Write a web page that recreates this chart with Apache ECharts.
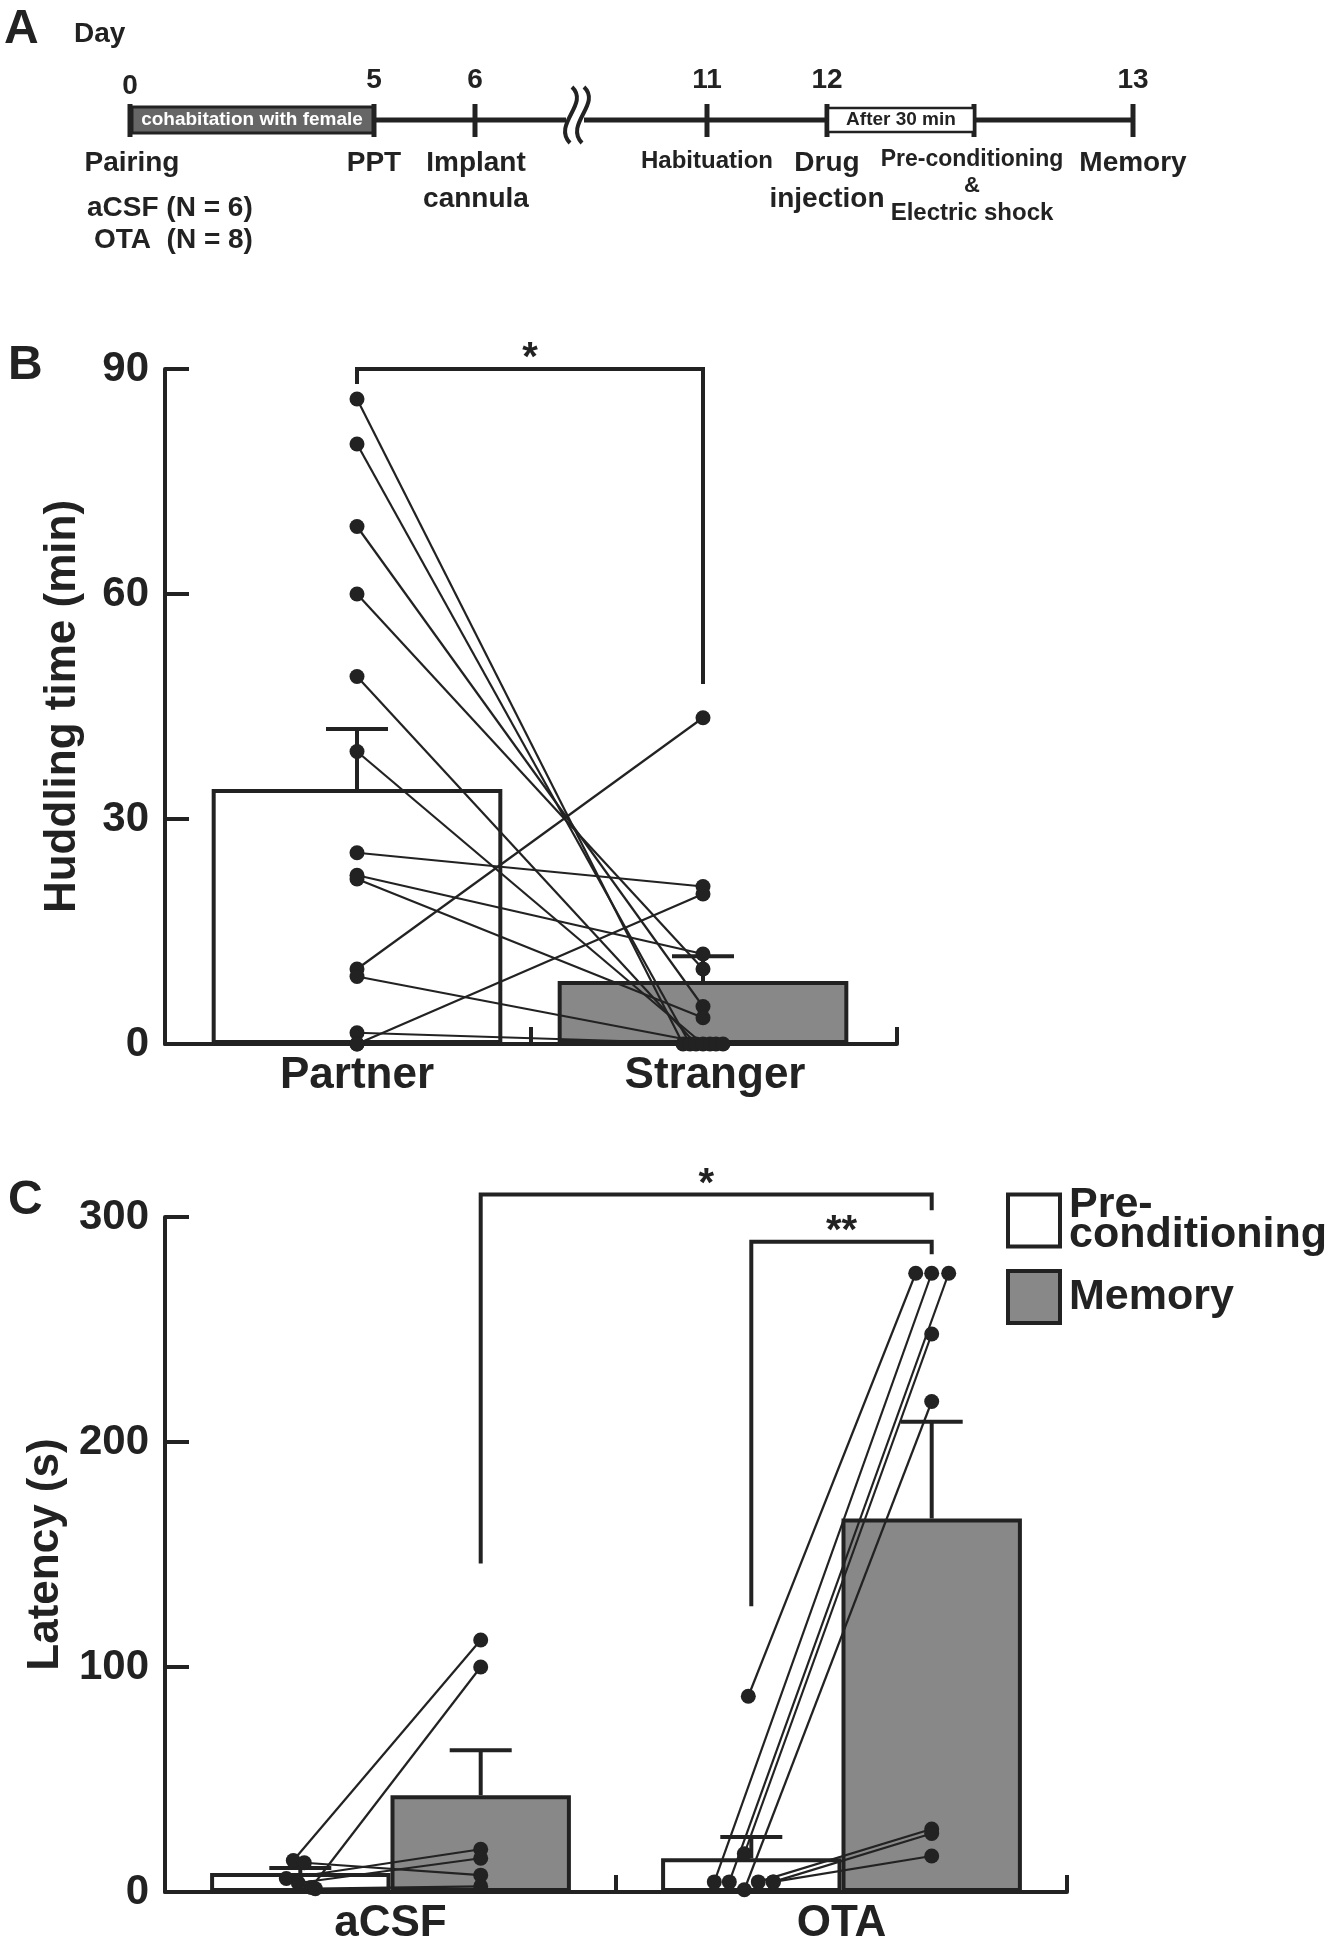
<!DOCTYPE html>
<html>
<head>
<meta charset="utf-8">
<script src="https://cdn.jsdelivr.net/npm/echarts@6/dist/echarts.min.js"></script>
<style>
html, body { margin: 0; padding: 0; background: #fff; }
#chart { width: 1336px; height: 1942px; }
</style>
</head>
<body>
<div id="chart"></div>
<script>
var INK = '#222';
var FONT = '"Liberation Sans", Arial, sans-serif';

// ---- B: huddling time (min)
var huddleCats = ['Partner', 'Stranger'];
var huddleMean = [34, 8.4];
var huddleSem = [8, 3.3];
var partnerTime = [86, 80, 69, 60, 49, 39, 25.5, 22.5, 22, 10, 9, 1.5, 0, 0];
var strangerTime = [0, 0, 5, 10, 0, 0, 21, 12, 3.5, 43.5, 0, 0, 0, 20];

// ---- C: latency (s)
var groups = ['aCSF', 'OTA'];
var preMean = [8.4, 15];
var preSem = [2.3, 9.5];
var memMean = [43, 166];
var memSem = [20, 43];
var acsfPre = [14, 2, 13, 6, 4, 1.5];
var acsfMem = [112, 100, 7.5, 19, 15, 2.5];
var otaPre = [87, 4.5, 4.5, 17, 1, 4.5, 4.5, 4.5];
var otaMem = [275, 275, 275, 248, 218, 28, 26, 16];

// significance brackets: [catL, sideL, footL, top, catR, sideR, footR]
var sigB = [[0, 0, 88, 90, 1, 0, 48]];
var sigBText = ['*'];
var sigC = [[0, 1, 146, 310, 1, 1, 303], [1, -1, 127, 289, 1, 1, 283.5]];
var sigCText = ['*', '**'];

// timeline (panel A)
var dayLabels = ['0', '5', '6', '11', '12', '13'];

// horizontal spread of overlapping dots, px
var strangerJit = [-20, -13, 0, 0, -7, 0, 0, 0, 0, 0, 7, 13, 20, 0];
var acsfPreJit = [-7, 11, 4, -14, -2, 15];
var otaPreJit = [-3, -37, -22, -7, -7, 7, 22, 22];
var otaMemJit = [-16, 0, 17, 0, 0, 0, 0, 0];

var chart = echarts.init(document.getElementById('chart'));

function txt(s, x, y, size, opt) {
    opt = opt || {};
    return {
        type: 'text', x: x, y: y, z: 10,
        style: {
            text: s, fill: opt.fill || INK, font: 'bold ' + size + 'px ' + FONT,
            align: opt.align || 'center', verticalAlign: 'middle'
        }
    };
}
function seg(x1, y1, x2, y2, w) {
    return { type: 'line', z: 5, shape: { x1: x1, y1: y1, x2: x2, y2: y2 }, style: { stroke: INK, lineWidth: w || 5 } };
}
function wave(dx) {
    return {
        type: 'bezierCurve', z: 5,
        shape: { x1: 572 + dx, y1: 87, cpx1: 590 + dx, cpy1: 104, cpx2: 552 + dx, cpy2: 124, x2: 570 + dx, y2: 143 },
        style: { stroke: INK, lineWidth: 4, fill: null }
    };
}

// panel A drawing
var TY = 120;
var dayX = [130, 374, 475, 707, 827, 1133];
var tl = [
    txt('A', 4, 30, 48, { align: 'left' }),
    txt('B', 8, 366, 48, { align: 'left' }),
    txt('C', 8, 1201, 48, { align: 'left' }),
    txt('Day', 74, 34, 28, { align: 'left' }),
    seg(130, TY, 566, TY),
    seg(584, TY, 1133, TY),
    wave(0), wave(12),
    { type: 'rect', z: 6, shape: { x: 132, y: 107, width: 241, height: 26 }, style: { fill: '#666', stroke: INK, lineWidth: 3 } },
    txt('cohabitation with female', 252, 120, 19, { fill: '#fff' }),
    { type: 'rect', z: 6, shape: { x: 828, y: 108, width: 146, height: 24 }, style: { fill: '#fff', stroke: INK, lineWidth: 2.5 } },
    txt('After 30 min', 901, 120, 19),
    seg(974, 104, 974, 137),
    txt('Pairing', 132, 163, 28),
    txt('PPT', 374, 163, 28),
    txt('Implant', 476, 163, 28),
    txt('cannula', 476, 199, 28),
    txt('Habituation', 707, 161, 24),
    txt('Drug', 827, 163, 28),
    txt('injection', 827, 199, 28),
    txt('Pre-conditioning', 972, 160, 23),
    txt('&', 972, 186, 22),
    txt('Electric shock', 972, 213, 24),
    txt('Memory', 1133, 163, 28),
    txt('aCSF (N = 6)', 87, 208, 28, { align: 'left' }),
    txt('OTA  (N = 8)', 94, 240, 28, { align: 'left' })
];
dayLabels.forEach(function (d, i) {
    tl.push(seg(dayX[i], 104, dayX[i], 137));
    tl.push(txt(d, dayX[i], i === 0 ? 86 : 80, 28));
});

// ---- custom renderers
function halfBar(api) { return api.size([1, 0])[0] * 0.2; }

function renderErr(params, api) {
    var x = api.coord([api.value(0), 0])[0] + api.value(3) * halfBar(api);
    var yb = api.coord([0, api.value(1)])[1];
    var yt = api.coord([0, api.value(1) + api.value(2)])[1];
    return {
        type: 'group', children: [
            { type: 'line', shape: { x1: x, y1: yb, x2: x, y2: yt }, style: { stroke: INK, lineWidth: 4 } },
            { type: 'line', shape: { x1: x - 31, y1: yt, x2: x + 31, y2: yt }, style: { stroke: INK, lineWidth: 4 } }
        ]
    };
}

// rows: [catA, valA, catB, valB, offA, offB, sideA, sideB]
function pairEnds(api) {
    var h = halfBar(api);
    var a = api.coord([api.value(0), api.value(1)]);
    var b = api.coord([api.value(2), api.value(3)]);
    a[0] += api.value(6) * h + api.value(4);
    b[0] += api.value(7) * h + api.value(5);
    return [a, b];
}
function renderPairLine(params, api) {
    var p = pairEnds(api);
    return { type: 'line', shape: { x1: p[0][0], y1: p[0][1], x2: p[1][0], y2: p[1][1] }, style: { stroke: INK, lineWidth: 2.2 } };
}
function renderPairDots(params, api) {
    var p = pairEnds(api);
    return {
        type: 'group', children: [
            { type: 'circle', shape: { cx: p[0][0], cy: p[0][1], r: 7.5 }, style: { fill: INK } },
            { type: 'circle', shape: { cx: p[1][0], cy: p[1][1], r: 7.5 }, style: { fill: INK } }
        ]
    };
}
function renderBracket(labels) {
    return function (params, api) {
        var h = halfBar(api);
        var xl = api.coord([api.value(0), 0])[0] + api.value(1) * h;
        var xr = api.coord([api.value(4), 0])[0] + api.value(5) * h;
        var yl = api.coord([0, api.value(2)])[1];
        var yt = api.coord([0, api.value(3)])[1];
        var yr = api.coord([0, api.value(6)])[1];
        return {
            type: 'group', children: [
                { type: 'polyline', shape: { points: [[xl, yl], [xl, yt], [xr, yt], [xr, yr]] }, style: { stroke: INK, lineWidth: 4, fill: null } },
                { type: 'text', x: (xl + xr) / 2, y: yt - 30, style: { text: labels[params.dataIndex], fill: INK, font: 'bold 40px ' + FONT, align: 'center', verticalAlign: 'top' } }
            ]
        };
    };
}

var pairsB = partnerTime.map(function (v, i) { return [0, v, 1, strangerTime[i], 0, strangerJit[i], 0, 0]; });
var pairsC = acsfPre.map(function (v, i) { return [0, v, 0, acsfMem[i], acsfPreJit[i], 0, -1, 1]; })
    .concat(otaPre.map(function (v, i) { return [1, v, 1, otaMem[i], otaPreJit[i], otaMemJit[i], -1, 1]; }));
var errB = huddleMean.map(function (m, i) { return [i, m, huddleSem[i], 0]; });
var errC = [];
groups.forEach(function (g, i) {
    errC.push([i, preMean[i], preSem[i], -1]);
    errC.push([i, memMean[i], memSem[i], 1]);
});

var axisLine = { show: true, lineStyle: { color: INK, width: 4 } };
var labelStyle = { color: INK, fontWeight: 'bold', fontFamily: FONT };

function xAx(idx, cats, frame, labels) {
    return {
        gridIndex: idx, type: 'category', data: cats,
        axisLine: frame ? axisLine : { show: false },
        axisTick: { show: frame, inside: true, length: 17, lineStyle: { color: INK, width: 4 } },
        axisLabel: Object.assign({ show: labels, fontSize: 44, margin: 10 }, labelStyle)
    };
}
function yAx(idx, max, step, name, gap) {
    return {
        gridIndex: idx, type: 'value', min: 0, max: max, interval: step,
        splitLine: { show: false },
        axisLine: axisLine,
        axisTick: { show: true, inside: true, length: 24, lineStyle: { color: INK, width: 4 } },
        axisLabel: Object.assign({ fontSize: 42, margin: 16 }, labelStyle),
        name: name, nameLocation: 'middle', nameRotate: 90, nameGap: gap,
        nameTextStyle: Object.assign({ fontSize: 44 }, labelStyle)
    };
}

var xB = xAx(0, huddleCats, false, true);
xB.axisLabel.formatter = function (v) { return v === 'Stranger' ? '{s|' + v + '}' : v; };
xB.axisLabel.rich = { s: Object.assign({ fontSize: 44, padding: [0, 0, 0, 24] }, labelStyle) };

var option = {
    animation: false,
    backgroundColor: '#fff',
    graphic: tl,
    grid: [
        // B data area (category centres under the bars)
        { left: 184, top: 369, width: 692, height: 675, outerBoundsMode: 'none' },
        // C
        { left: 165, top: 1217, width: 902, height: 675, outerBoundsMode: 'none' },
        // B frame (axis lines, ticks)
        { left: 165, top: 369, width: 732, height: 675, outerBoundsMode: 'none' }
    ],
    xAxis: [
        xB,
        xAx(1, groups, true, true),
        xAx(2, ['', ''], true, false)
    ],
    yAxis: [
        { gridIndex: 0, type: 'value', min: 0, max: 90, show: false },
        yAx(1, 300, 100, 'Latency (s)', 96),
        yAx(2, 90, 30, 'Huddling time (min)', 80)
    ],
    legend: {
        data: ['Pre-conditioning', 'Memory'],
        orient: 'vertical', left: 1001, top: 1179,
        itemWidth: 52, itemHeight: 52, itemGap: 12, icon: 'rect',
        selectedMode: false,
        itemStyle: { borderColor: INK, borderWidth: 4 },
        formatter: function (n) { return n === 'Pre-conditioning' ? 'Pre-\nconditioning' : n; },
        textStyle: Object.assign({ fontSize: 43, lineHeight: 30, padding: [0, 0, 0, 4] }, labelStyle)
    },
    series: [
        {
            type: 'bar', name: 'Huddling', xAxisIndex: 0, yAxisIndex: 0, z: 1,
            barWidth: '84%',
            data: huddleMean.map(function (v, i) {
                return { value: v, itemStyle: { color: i === 0 ? '#fff' : '#888' } };
            }),
            itemStyle: { borderColor: INK, borderWidth: 4 }
        },
        { type: 'custom', xAxisIndex: 0, yAxisIndex: 0, z: 2, clip: false, renderItem: renderErr, data: errB },
        { type: 'custom', xAxisIndex: 0, yAxisIndex: 0, z: 3, clip: false, renderItem: renderPairLine, data: pairsB },
        { type: 'custom', xAxisIndex: 0, yAxisIndex: 0, z: 4, clip: false, renderItem: renderPairDots, data: pairsB },
        { type: 'custom', xAxisIndex: 0, yAxisIndex: 0, z: 3, clip: false, renderItem: renderBracket(sigBText), data: sigB },

        {
            type: 'bar', name: 'Pre-conditioning', xAxisIndex: 1, yAxisIndex: 1, z: 1,
            barWidth: '40%', barGap: '0%', data: preMean,
            itemStyle: { color: '#fff', borderColor: INK, borderWidth: 4 }
        },
        {
            type: 'bar', name: 'Memory', xAxisIndex: 1, yAxisIndex: 1, z: 1,
            barWidth: '40%', barGap: '0%', data: memMean,
            itemStyle: { color: '#888', borderColor: INK, borderWidth: 4 }
        },
        { type: 'custom', xAxisIndex: 1, yAxisIndex: 1, z: 2, clip: false, renderItem: renderErr, data: errC },
        { type: 'custom', xAxisIndex: 1, yAxisIndex: 1, z: 3, clip: false, renderItem: renderPairLine, data: pairsC },
        { type: 'custom', xAxisIndex: 1, yAxisIndex: 1, z: 4, clip: false, renderItem: renderPairDots, data: pairsC },
        { type: 'custom', xAxisIndex: 1, yAxisIndex: 1, z: 3, clip: false, renderItem: renderBracket(sigCText), data: sigC }
    ]
};
chart.setOption(option);
</script>
</body>
</html>
